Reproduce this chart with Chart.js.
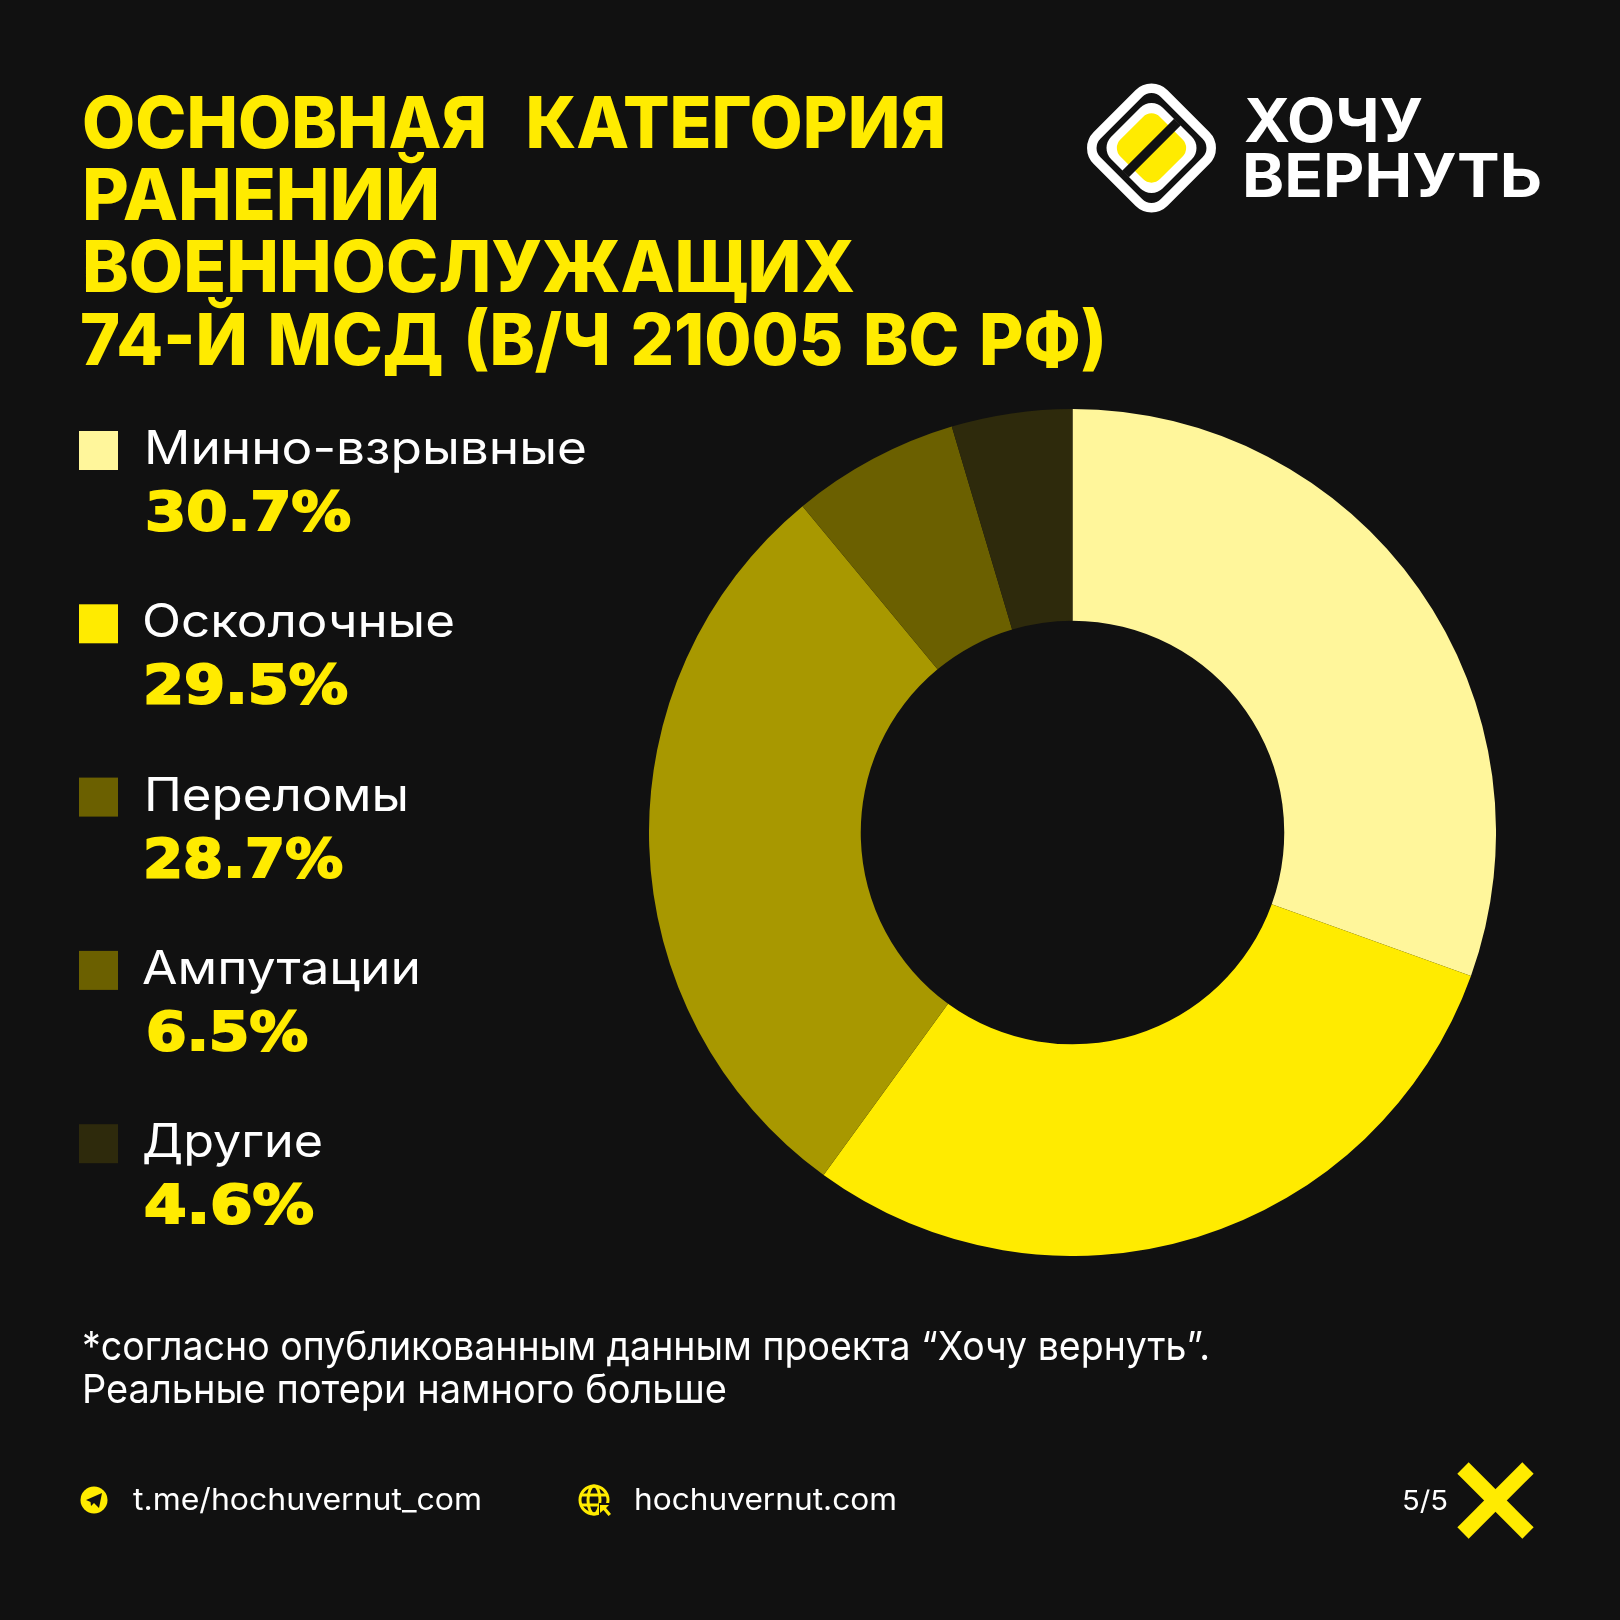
<!DOCTYPE html>
<html lang="ru">
<head>
<meta charset="utf-8">
<title>Основная категория ранений</title>
<script src="https://cdn.jsdelivr.net/npm/chart.js@4"></script>
<style>
    html, body { margin: 0; padding: 0; background: #111111; }
    #page { position: relative; width: 1620px; height: 1620px; background: #111111; overflow: hidden; }
    #chart { position: absolute; left: 649px; top: 409px; }
    #overlay { position: absolute; left: 0; top: 0; }
</style>
</head>
<body>
<div id="page">
    <canvas id="chart" width="847" height="847"></canvas>
    <svg id="overlay" width="1620" height="1620" xmlns="http://www.w3.org/2000/svg">
        <!-- logo -->
        <g transform="translate(1151.5 148)">
            <rect x="-47.500" y="-47.500" width="95" height="95" rx="18" fill="none" stroke="#fff" stroke-width="9.500" transform="rotate(45)"/>
            <rect x="-36.500" y="-36.500" width="73" height="73" rx="16" fill="#fff" transform="rotate(45)"/>
            <rect x="-28" y="-28" width="56" height="56" rx="12" fill="#FFEB00" transform="rotate(45)"/>
            <line x1="-26" y1="26" x2="26" y2="-26" stroke="#111111" stroke-width="9.500"/>
        </g>
        <!-- telegram icon -->
        <circle cx="94" cy="1500" r="13.5" fill="#FFEB00"/>
        <path d="M86 1500 L102 1493 L99 1508 L94 1503 L91 1506 L90.5 1502 Z" fill="#111111"/>
        <!-- globe icon -->
        <g fill="none" stroke="#FFEB00" stroke-width="3">
            <circle cx="594" cy="1500" r="14"/>
            <ellipse cx="594" cy="1500" rx="6" ry="14"/>
            <line x1="580" y1="1495" x2="608" y2="1495"/>
            <line x1="580" y1="1505" x2="608" y2="1505"/>
        </g>
        <path d="M599 1503 H612 V1516 H599 Z" fill="#111111"/>
        <path d="M600 1505 L609 1505 L606 1508 L611 1514 L608.500 1516 L603.500 1510 L600 1513 Z" fill="#FFEB00"/>
        <!-- page mark -->
        <g stroke="#FFEB00" stroke-width="16">
            <line x1="1463" y1="1468" x2="1528" y2="1533"/>
            <line x1="1528" y1="1468" x2="1463" y2="1533"/>
        </g>
    </svg>
</div>

<script>
const categories = ["Минно-взрывные", "Осколочные", "Переломы", "Ампутации", "Другие"];
// printed figures, and the slice sizes as they are actually drawn in the picture
const shares = [30.7, 29.5, 28.7, 6.5, 4.6];
const sliceSizes = [30.5, 29.5, 29.0, 6.4, 4.6];
const sliceColors = ["#FFF69B", "#FFEB00", "#A89800", "#6B6000", "#2E2A0C"];
const swatchColors = ["#FFF69B", "#FFEB00", "#6B6000", "#6B6000", "#2E2A0C"];

const titleLines = ["ОСНОВНАЯ КАТЕГОРИЯ", "РАНЕНИЙ", "ВОЕННОСЛУЖАЩИХ", "74-Й МСД (В/Ч 21005 ВС РФ)"];
const noteLines = ["*согласно опубликованным данным проекта “Хочу вернуть”.", "Реальные потери намного больше"];

// measured widths, so the substitute fonts end where the reference text ends
const titleLayout = [[82, 148, 864, 24], [82, 220, 358, 0], [82, 292, 773, 0], [80, 365, 1027, 5]];
const noteLayout = [[82, 1360, 1128], [82, 1403, 645]];
const labelLayout = [[144, 443], [142, 313], [144, 265], [142, 279], [142, 181]];
const shareLayout = [[145, 206], [143, 205], [143, 200], [146, 162], [144, 170]];

const YELLOW = "#FFEB00";
const SANS = "Inter, 'Noto Sans', sans-serif";
const SVG_NS = "http://www.w3.org/2000/svg";
const overlay = document.getElementById("overlay");

function addText(content, x, y, size, weight, color, width, family = SANS) {
    const el = document.createElementNS(SVG_NS, "text");
    el.setAttribute("x", x);
    el.setAttribute("y", y);
    el.setAttribute("font-family", family);
    el.setAttribute("font-size", size);
    el.setAttribute("font-weight", weight);
    el.setAttribute("fill", color);
    if (width) {
        el.setAttribute("textLength", width);
        el.setAttribute("lengthAdjust", "spacingAndGlyphs");
    }
    el.textContent = content;
    overlay.appendChild(el);
    return el;
}

function addSwatch(y, color) {
    const el = document.createElementNS(SVG_NS, "rect");
    el.setAttribute("x", 79);
    el.setAttribute("y", y);
    el.setAttribute("width", 39);
    el.setAttribute("height", 39);
    el.setAttribute("fill", color);
    overlay.appendChild(el);
}

titleLines.forEach((line, i) => {
    const [x, y, width, wordGap] = titleLayout[i];
    addText(line, x, y, 71, 800, YELLOW, width).setAttribute("word-spacing", wordGap);
});

addText("ХОЧУ", 1244, 142, 60, 700, "#ffffff", 179);
addText("ВЕРНУТЬ", 1242, 197, 60, 700, "#ffffff", 300);

// Legend rows
categories.forEach((name, i) => {
    const rowTop = i * 173.3;
    addSwatch(431 + rowTop, swatchColors[i]);
    addText(name, labelLayout[i][0], 464 + rowTop, 46, 400, "#ffffff", labelLayout[i][1]);
    const share = addText(shares[i].toFixed(1) + "%", shareLayout[i][0], 530 + rowTop, 53, 700, YELLOW, shareLayout[i][1], "'DejaVu Sans', sans-serif");
    share.setAttribute("stroke", YELLOW);
    share.setAttribute("stroke-width", 2);
});

noteLines.forEach((line, i) => {
    const [x, y, width] = noteLayout[i];
    addText(line, x, y, 40, 400, "#ffffff", width);
});

addText("t.me/hochuvernut_com", 133, 1510, 30, 400, "#ffffff", 349);
addText("hochuvernut.com", 634, 1510, 30, 400, "#ffffff", 263);
addText("5/5", 1402, 1510, 27, 400, "#ffffff", 46);

new Chart(document.getElementById("chart"), {
    type: "doughnut",
    data: {
        labels: categories,
        datasets: [{
            data: sliceSizes,
            backgroundColor: sliceColors,
            borderWidth: 0
        }]
    },
    options: {
        responsive: false,
        animation: false,
        cutout: "50%",
        plugins: {
            legend: { display: false },
            tooltip: { enabled: false }
        }
    }
});
</script>
</body>
</html>
